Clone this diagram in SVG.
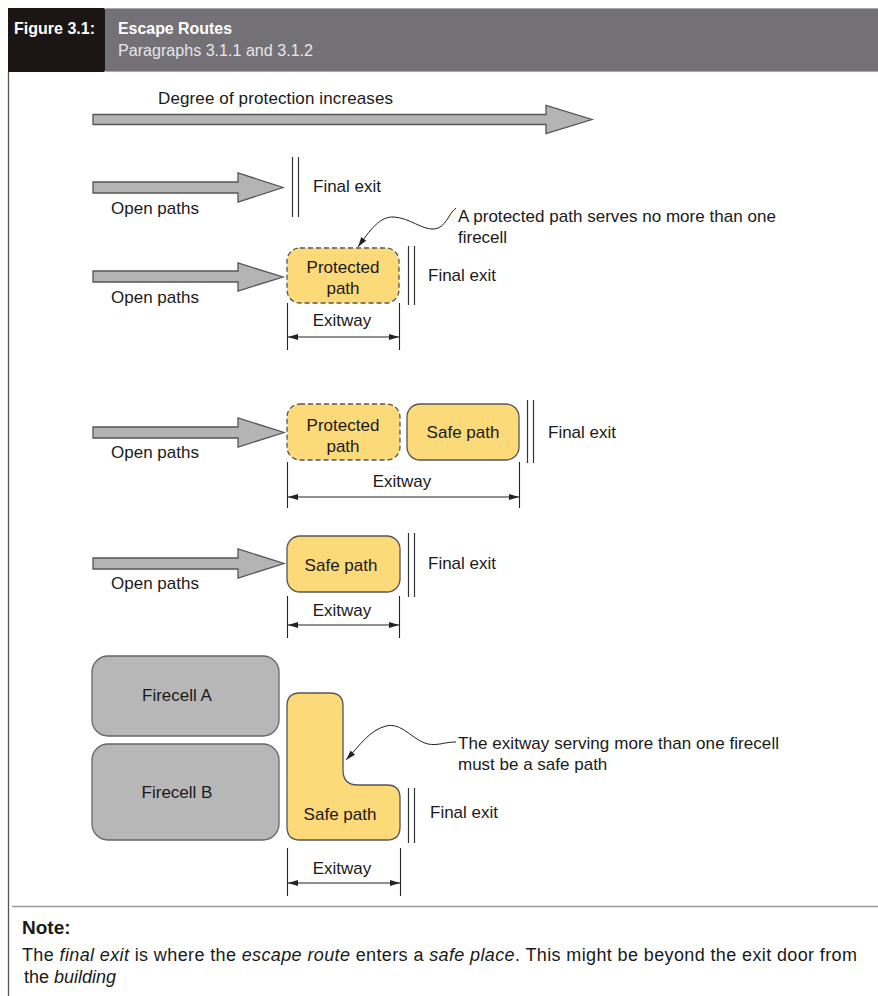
<svg xmlns="http://www.w3.org/2000/svg" width="878" height="996" viewBox="0 0 878 996">
<defs>
<marker id="dimA" viewBox="0 0 10 6" refX="10" refY="3" markerWidth="10" markerHeight="6" markerUnits="userSpaceOnUse" orient="auto-start-reverse"><path d="M0,0 L10,3 L0,6 Z" fill="#222"/></marker>
<marker id="lead" viewBox="0 0 10 6" refX="10" refY="3" markerWidth="10" markerHeight="6" markerUnits="userSpaceOnUse" orient="auto"><path d="M0,0 L10,3 L0,6 Z" fill="#222"/></marker>
</defs>
<style>
text{font-family:"Liberation Sans",Arial,sans-serif;fill:#1a1a1a;font-size:17px}
.c{text-anchor:middle}
.arrow{fill:#b4b4b4;stroke:#555;stroke-width:1.3}
.prot{fill:#fcd979;stroke:#555;stroke-width:1.3;stroke-dasharray:5,3}
.safe{fill:#fcd979;stroke:#555;stroke-width:1.3}
.cell{fill:#b7b7b7;stroke:#666;stroke-width:1.3}
.exit{stroke:#333;stroke-width:1.2;fill:none}
.dim{stroke:#222;stroke-width:1.1;fill:none}
.lead{stroke:#222;stroke-width:1;fill:none}
</style>
<rect width="878" height="996" fill="#fff"/>
<g id="header">
<rect x="8" y="8" width="870" height="64" fill="#737176"/>
<rect x="8" y="8" width="97" height="64" fill="#1b1513"/>
<line x1="104" y1="8.5" x2="878" y2="8.5" stroke="#a9a8ab" stroke-width="1"/>
<line x1="104" y1="71.5" x2="878" y2="71.5" stroke="#a9a8ab" stroke-width="1"/>
<text x="14" y="34" style="fill:#fff;font-weight:bold;font-size:16.5px" textLength="81" lengthAdjust="spacingAndGlyphs">Figure 3.1:</text>
<text x="118" y="34" style="fill:#fff;font-weight:bold;font-size:16.5px" textLength="114" lengthAdjust="spacingAndGlyphs">Escape Routes</text>
<text x="118" y="56" style="fill:#e6e6e8;font-size:16px" textLength="195" lengthAdjust="spacingAndGlyphs">Paragraphs 3.1.1 and 3.1.2</text>
</g>
<line x1="8.5" y1="72" x2="8.5" y2="996" stroke="#555" stroke-width="1.3"/>
<g id="degree">
<polygon class="arrow" points="93,114.5 546,114.5 546,105.5 592,119.5 546,133.5 546,124.5 93,124.5"/>
<text x="158" y="104" textLength="235">Degree of protection increases</text>
</g>
<g id="row1">
<polygon class="arrow" points="93,182 238,182 238,173 283,187.5 238,202 238,193 93,193"/>
<text x="111" y="214">Open paths</text>
<line class="exit" x1="292.5" y1="157" x2="292.5" y2="217"/>
<line class="exit" x1="298.5" y1="157" x2="298.5" y2="217"/>
<text x="313" y="192">Final exit</text>
</g>
<g id="row2">
<polygon class="arrow" points="93,271 238,271 238,263 283,277 238,291 238,282 93,282"/>
<text x="111" y="303">Open paths</text>
<rect class="prot" x="287" y="248" width="112" height="55" rx="13"/>
<text class="c" x="343" y="273">Protected</text>
<text class="c" x="343" y="294">path</text>
<line class="exit" x1="408.5" y1="246" x2="408.5" y2="305"/>
<line class="exit" x1="414.5" y1="246" x2="414.5" y2="305"/>
<text x="428" y="281">Final exit</text>
<text class="c" x="342" y="326">Exitway</text>
</g>
<g id="row3">
<polygon class="arrow" points="93,427 238,427 238,418 284,432.5 238,447 238,438 93,438"/>
<text x="111" y="458">Open paths</text>
<rect class="prot" x="287" y="404" width="113" height="56" rx="13"/>
<text class="c" x="343" y="431">Protected</text>
<text class="c" x="343" y="452">path</text>
<rect class="safe" x="407" y="404" width="112" height="56" rx="13"/>
<text class="c" x="463" y="438">Safe path</text>
<line class="exit" x1="527.5" y1="400" x2="527.5" y2="463"/>
<line class="exit" x1="533.5" y1="400" x2="533.5" y2="463"/>
<text x="548" y="438">Final exit</text>
<text class="c" x="402" y="487">Exitway</text>
</g>
<g id="row4">
<polygon class="arrow" points="93,558 238,558 238,549 284,563.5 238,578 238,569 93,569"/>
<text x="111" y="589">Open paths</text>
<rect class="safe" x="287" y="536" width="113" height="56" rx="13"/>
<text class="c" x="341" y="571">Safe path</text>
<line class="exit" x1="408.5" y1="533" x2="408.5" y2="597"/>
<line class="exit" x1="414.5" y1="533" x2="414.5" y2="597"/>
<text x="428" y="569">Final exit</text>
<text class="c" x="342" y="616">Exitway</text>
</g>
<g id="firecellA">
<rect class="cell" x="92" y="656" width="187" height="80" rx="16"/>
<text class="c" x="177" y="701">Firecell A</text>
</g>
<g id="firecellB">
<rect class="cell" x="92" y="744" width="187" height="96" rx="16"/>
<text class="c" x="177" y="798">Firecell B</text>
</g>
<g id="row5">
<path class="safe" d="M300,693 L330,693 Q343,693 343,706 L343,770 Q343,785 358,785 L387,785 Q400,785 400,798 L400,827 Q400,840 387,840 L300,840 Q287,840 287,827 L287,706 Q287,693 300,693 Z"/>
<text class="c" x="340" y="820">Safe path</text>
<line class="exit" x1="408.5" y1="788" x2="408.5" y2="843"/>
<line class="exit" x1="414.5" y1="788" x2="414.5" y2="843"/>
<text x="430" y="818">Final exit</text>
<text class="c" x="342" y="874">Exitway</text>
</g>
<g id="connectors">
<line class="dim" x1="287.5" y1="303" x2="287.5" y2="350"/>
<line class="dim" x1="399.5" y1="303" x2="399.5" y2="350"/>
<line class="dim" x1="288" y1="337" x2="399" y2="337" marker-start="url(#dimA)" marker-end="url(#dimA)"/>
<line class="dim" x1="287.5" y1="462" x2="287.5" y2="508"/>
<line class="dim" x1="519.5" y1="462" x2="519.5" y2="508"/>
<line class="dim" x1="288" y1="497" x2="519" y2="497" marker-start="url(#dimA)" marker-end="url(#dimA)"/>
<line class="dim" x1="287.5" y1="596" x2="287.5" y2="638"/>
<line class="dim" x1="399.5" y1="596" x2="399.5" y2="638"/>
<line class="dim" x1="288" y1="625" x2="399" y2="625" marker-start="url(#dimA)" marker-end="url(#dimA)"/>
<line class="dim" x1="287.5" y1="848" x2="287.5" y2="896"/>
<line class="dim" x1="400.5" y1="848" x2="400.5" y2="896"/>
<line class="dim" x1="288" y1="883" x2="400" y2="883" marker-start="url(#dimA)" marker-end="url(#dimA)"/>
<path class="lead" d="M456,208 C448,214 446,228 434,229 C422,230 410,218 394,217 C380,216 370,230 358,247" marker-end="url(#lead)"/>
<path class="lead" d="M456,742 C444,742 438,746 428,744 C412,740 402,722 386,726 C370,730 360,745 346,760" marker-end="url(#lead)"/>
</g>
<g id="callouts">
<text x="458" y="222" textLength="318">A protected path serves no more than one</text>
<text x="458" y="243">firecell</text>
<text x="458" y="749" textLength="321">The exitway serving more than one firecell</text>
<text x="458" y="770">must be a safe path</text>
</g>
<g id="note">
<line x1="12" y1="906.5" x2="878" y2="906.5" stroke="#999" stroke-width="1.5"/>
<text x="22" y="934" style="font-weight:bold;font-size:19px">Note:</text>
<text x="22" y="961" style="font-size:18px" textLength="835">The <tspan font-style="italic">final exit</tspan> is where the <tspan font-style="italic">escape route</tspan> enters a <tspan font-style="italic">safe place</tspan>. This might be beyond the exit door from</text>
<text x="24" y="983" style="font-size:18px">the <tspan font-style="italic">building</tspan></text>
</g>
</svg>
